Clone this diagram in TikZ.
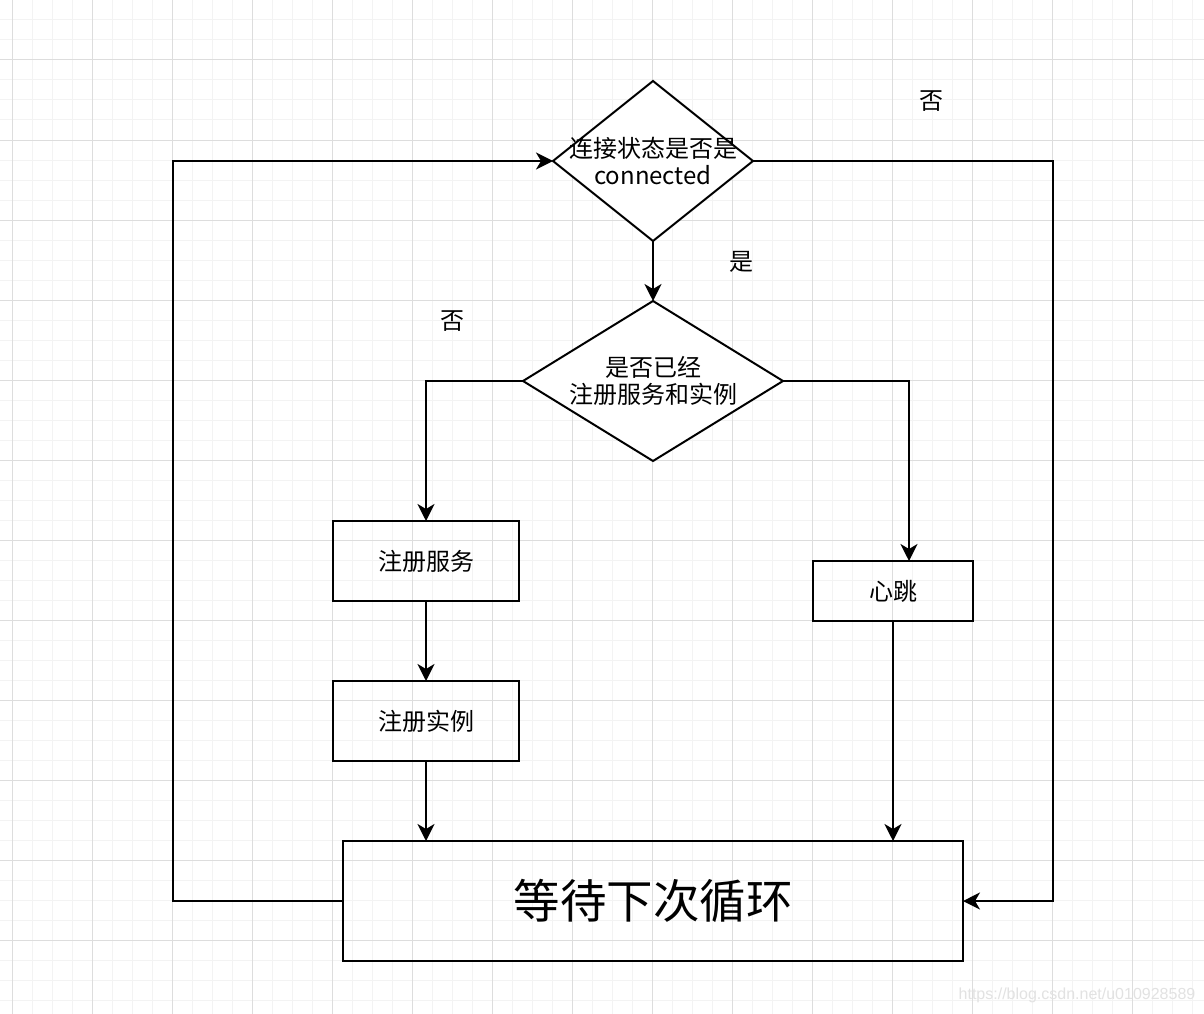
\documentclass[tikz,border=0pt]{standalone}
\usepackage{fontspec}
\setmainfont{Noto Sans CJK SC}
\newfontfamily\wmfont{Liberation Sans}
\usetikzlibrary{shapes.geometric,arrows.meta}
\definecolor{gridminor}{HTML}{F3F3F3}
\definecolor{gridmajor}{HTML}{DDDDDD}
\definecolor{wmgray}{HTML}{E2E2E2}
\begin{document}
\begin{tikzpicture}[x=1pt,y=-1pt,line width=2pt,
  box/.style={draw, rectangle, inner sep=0pt, outer sep=0pt, font=\fontsize{24}{28}\selectfont},
  dia/.style={draw, diamond, inner sep=0pt, outer sep=0pt, fill=white},
  lbl/.style={font=\fontsize{24}{28}\selectfont, inner sep=0pt},
  inlbl/.style={align=center, font=\fontsize{24}{28}\selectfont, inner sep=0pt},
  arr/.style={-{Stealth[length=17pt,width=17pt,inset=5pt]}}]
\fill[white] (0,0) rectangle (1204,1014);
\useasboundingbox (0,0) rectangle (1204,1014);
% grid
\foreach \x in {12,32,...,1200} \draw[gridminor,line width=1pt] (\x,0) -- (\x,1014);
\foreach \y in {0,20,...,1010} \draw[gridminor,line width=1pt] (0,\y) -- (1204,\y);
\foreach \x in {12,92,...,1200} \draw[gridmajor,line width=1pt] (\x,0) -- (\x,1014);
\foreach \y in {60,140,...,1010} \draw[gridmajor,line width=1pt] (0,\y) -- (1204,\y);
% nodes
\node[dia, minimum width=200pt, minimum height=160pt,
  label={[inlbl]center:连接状态是否是\\[-1pt]connected}] (d1) at (653,161) {};
\node[dia, minimum width=260pt, minimum height=160pt,
  label={[inlbl]center:是否已经\\[-1pt]注册服务和实例}] (d2) at (653,381) {};
\node[box, minimum width=186pt, minimum height=80pt] (reg) at (426,561) {注册服务};
\node[box, minimum width=186pt, minimum height=80pt] (inst) at (426,721) {注册实例};
\node[box, minimum width=160pt, minimum height=60pt] (hb) at (893,591) {心跳};
\node[box, minimum width=620pt, minimum height=120pt, font=\fontsize{46.5}{52}\selectfont] (wait) at (653,901) {等待下次循环};
\node[lbl] (no1) at (931,101) {否};
\node[lbl] (yes1) at (741,262) {是};
\node[lbl] (no2) at (452,321) {否};
\node[text=wmgray, font=\wmfont\fontsize{16}{19}\selectfont, inner sep=0pt] (wm) at (1077,995) {https://blog.csdn.net/u010928589};
\coordinate (rt) at (1053,161);
\coordinate (lt) at (173,901);
% connectors
\draw[arr] (d1.south) -- (d2.north);
\draw[arr] (d2.west) -| (reg.north);
\draw[arr] (d2.east) -| ([xshift=16pt]hb.north);
\draw[arr] (reg.south) -- (inst.north);
\draw[arr] (inst.south) -- (inst.south |- wait.north);
\draw[arr] (hb.south) -- (hb.south |- wait.north);
\draw[arr] (d1.east) -- (rt) |- (wait.east);
\draw[arr] (wait.west) -- (lt) |- (d1.west);
\end{tikzpicture}
\end{document}
